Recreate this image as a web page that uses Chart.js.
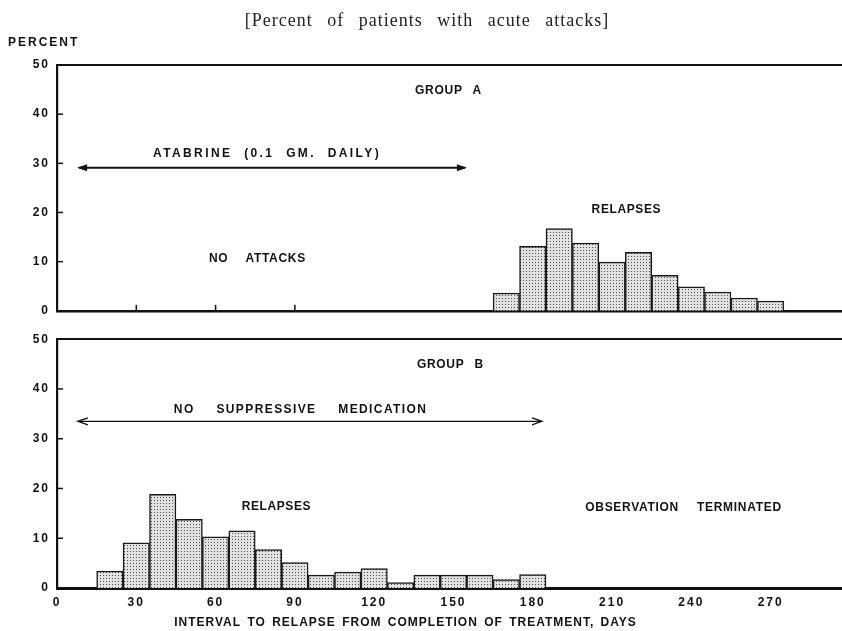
<!DOCTYPE html>
<html>
<head>
<meta charset="utf-8">
<script src="https://cdn.jsdelivr.net/npm/chart.js@4.4.1/dist/chart.umd.min.js"></script>
<style>
  body { margin: 0; background: #fff; }
  #wrap { position: relative; width: 842px; height: 631px; }
  #wrap canvas { position: absolute; left: 0; }
  #top { top: 0; }
  #bottom { top: 325px; }
</style>
</head>
<body>
<div id="wrap">
  <canvas id="top" width="842" height="325"></canvas>
  <canvas id="bottom" width="842" height="306"></canvas>
</div>
<script>
// bins of 10 days, value = centre of the bin
var daysA = [170, 180, 190, 200, 210, 220, 230, 240, 250, 260, 270];
var pctA  = [3.6, 13.1, 16.7, 13.8, 9.9, 11.9, 7.2, 4.9, 3.8, 2.6, 2.0];

var daysB = [20, 30, 40, 50, 60, 70, 80, 90, 100, 110, 120, 130, 140, 150, 160, 170, 180];
var pctB  = [3.4, 9.1, 18.8, 13.8, 10.3, 11.5, 7.7, 5.1, 2.6, 3.2, 3.9, 1.1, 2.6, 2.6, 2.6, 1.7, 2.7];

var xTicks = [0, 30, 60, 90, 120, 150, 180, 210, 240, 270];
var yTicks = [0, 10, 20, 30, 40, 50];
var topMarks = [30, 60, 90];

var SANS = '"Liberation Sans", Arial, sans-serif';
var INK = '#111';

// stippled fill for the bars
var pc = document.createElement('canvas');
pc.width = 3; pc.height = 3;
var pg = pc.getContext('2d');
pg.fillStyle = '#e2e2e2';
pg.fillRect(0, 0, 3, 3);
pg.fillStyle = '#4a4a4a';
pg.fillRect(1, 1, 1, 1);
var stipple = pg.createPattern(pc, 'repeat');

function label(ctx, text, x, y, size, ls, ws, align) {
  ctx.save();
  ctx.font = 'bold ' + size + 'px ' + SANS;
  ctx.letterSpacing = ls + 'px';
  ctx.wordSpacing = ws + 'px';
  ctx.textAlign = align || 'center';
  ctx.textBaseline = 'middle';
  ctx.fillStyle = INK;
  ctx.fillText(text, x + (align ? 0 : ls / 2), y);
  ctx.restore();
}

function arrow(ctx, x1, x2, y, w, filled) {
  ctx.save();
  ctx.strokeStyle = INK;
  ctx.fillStyle = INK;
  ctx.lineWidth = w;
  ctx.beginPath();
  ctx.moveTo(x1 + 2, y);
  ctx.lineTo(x2 - 2, y);
  ctx.stroke();
  [[x1, 1], [x2, -1]].forEach(function (h) {
    ctx.beginPath();
    ctx.moveTo(h[0] + h[1] * 10, y - 3.5);
    ctx.lineTo(h[0], y);
    ctx.lineTo(h[0] + h[1] * 10, y + 3.5);
    if (filled) {
      ctx.closePath();
      ctx.fill();
    } else {
      ctx.lineWidth = 1.3;
      ctx.stroke();
    }
  });
  ctx.restore();
}

var notesPlugin = {
  id: 'notes',
  beforeDraw: function (chart) {
    // wider spacing for the tick labels
    chart.ctx.letterSpacing = '2px';
  },
  afterDatasetsDraw: function (chart, args, opts) {
    var ctx = chart.ctx, xs = chart.scales.x, ys = chart.scales.y, a = chart.chartArea;

    // short inward ticks on the y axis
    ctx.save();
    ctx.strokeStyle = INK;
    ctx.lineWidth = 1.5;
    yTicks.forEach(function (v) {
      if (v === 0 || v === 50) return;
      var py = ys.getPixelForValue(v);
      ctx.beginPath();
      ctx.moveTo(a.left, py);
      ctx.lineTo(a.left + 6, py);
      ctx.stroke();
    });
    (opts.marks || []).forEach(function (v) {
      var px = xs.getPixelForValue(v);
      ctx.beginPath();
      ctx.moveTo(px, a.bottom);
      ctx.lineTo(px, a.bottom - 6);
      ctx.stroke();
    });
    ctx.restore();

    (opts.texts || []).forEach(function (t) {
      label(ctx, t.text, xs.getPixelForValue(t.x), ys.getPixelForValue(t.y), 12, t.ls, t.ws);
    });

    if (opts.arrow) {
      var ar = opts.arrow;
      arrow(ctx, xs.getPixelForValue(ar.from), xs.getPixelForValue(ar.to), ys.getPixelForValue(ar.y), ar.width, ar.filled);
    }

    if (opts.header) {
      ctx.save();
      ctx.font = '18px "Liberation Serif", "Times New Roman", serif';
      ctx.letterSpacing = '1px';
      ctx.wordSpacing = '9px';
      ctx.textAlign = 'center';
      ctx.textBaseline = 'alphabetic';
      ctx.fillStyle = '#222';
      ctx.fillText('[Percent of patients with acute attacks]', 427, 26);
      ctx.restore();
      label(ctx, 'PERCENT', 8, 43, 12, 2, 0, 'left');
    }

    if (opts.xTitle) {
      label(ctx, 'INTERVAL TO RELAPSE FROM COMPLETION OF TREATMENT, DAYS', 405, chart.height - 8, 12, 1, 2);
    }
  }
};

function makePanel(id, days, pct, cfg) {
  var tickFont = { family: SANS, size: 12, weight: 'bold' };
  return new Chart(document.getElementById(id), {
    type: 'bar',
    data: {
      datasets: [{
        data: days.map(function (d, i) { return { x: d, y: pct[i] }; }),
        backgroundColor: stipple,
        borderColor: '#1a1a1a',
        borderWidth: 1.5,
        barPercentage: 1,
        categoryPercentage: 1
      }]
    },
    options: {
      responsive: false,
      animation: false,
      layout: { padding: { top: cfg.padTop, left: 0, right: 0, bottom: 0 } },
      plugins: {
        legend: { display: false },
        tooltip: { enabled: false },
        notes: cfg.notes
      },
      scales: {
        x: {
          type: 'linear',
          offset: false,
          min: 0,
          max: 297,
          afterBuildTicks: function (s) { s.ticks = xTicks.map(function (v) { return { value: v }; }); },
          afterFit: function (s) { s.height = cfg.xHeight; },
          grid: { display: false, drawTicks: false, offset: false },
          border: { display: true, color: INK, width: cfg.xBorder },
          ticks: { display: cfg.xLabels, padding: 7, color: INK, font: tickFont }
        },
        xTop: {
          type: 'linear',
          position: 'top',
          offset: false,
          min: 0,
          max: 297,
          afterFit: function (s) { s.height = 0; },
          grid: { display: false, drawTicks: false },
          border: { display: true, color: INK, width: 2 },
          ticks: { display: false }
        },
        y: {
          min: 0,
          max: 50,
          afterBuildTicks: function (s) { s.ticks = yTicks.map(function (v) { return { value: v }; }); },
          afterFit: function (s) { s.width = 57; },
          grid: { display: false, drawTicks: false },
          border: { display: true, color: INK, width: 2.2 },
          ticks: { padding: 7, color: INK, font: tickFont }
        }
      }
    },
    plugins: [notesPlugin]
  });
}

var topChart = makePanel('top', daysA, pctA, {
  padTop: 65,
  xHeight: 6,
  xBorder: 2.5,
  xLabels: false,
  notes: {
    header: true,
    marks: topMarks,
    texts: [
      { text: 'GROUP A', x: 148, y: 44.7, ls: 0.7, ws: 6 },
      { text: 'ATABRINE (0.1 GM. DAILY)', x: 79, y: 31.9, ls: 2.4, ws: 6 },
      { text: 'NO ATTACKS', x: 75.7, y: 10.6, ls: 0.7, ws: 13 },
      { text: 'RELAPSES', x: 215.3, y: 20.5, ls: 0.6, ws: 0 }
    ],
    arrow: { from: 7.6, to: 155.1, y: 29.1, width: 2, filled: true }
  }
});

var bottomChart = makePanel('bottom', daysB, pctB, {
  padTop: 11,
  xHeight: 43,
  xBorder: 3,
  xLabels: true,
  notes: {
    xTitle: true,
    texts: [
      { text: 'GROUP B', x: 148.7, y: 44.8, ls: 0.7, ws: 6 },
      { text: 'NO SUPPRESSIVE MEDICATION', x: 91.9, y: 35.9, ls: 1.4, ws: 17 },
      { text: 'RELAPSES', x: 82.9, y: 16.3, ls: 0.6, ws: 0 },
      { text: 'OBSERVATION TERMINATED', x: 236.9, y: 16.1, ls: 0.7, ws: 14 }
    ],
    arrow: { from: 7.9, to: 183.5, y: 33.5, width: 1.2, filled: false }
  }
});
</script>
</body>
</html>
